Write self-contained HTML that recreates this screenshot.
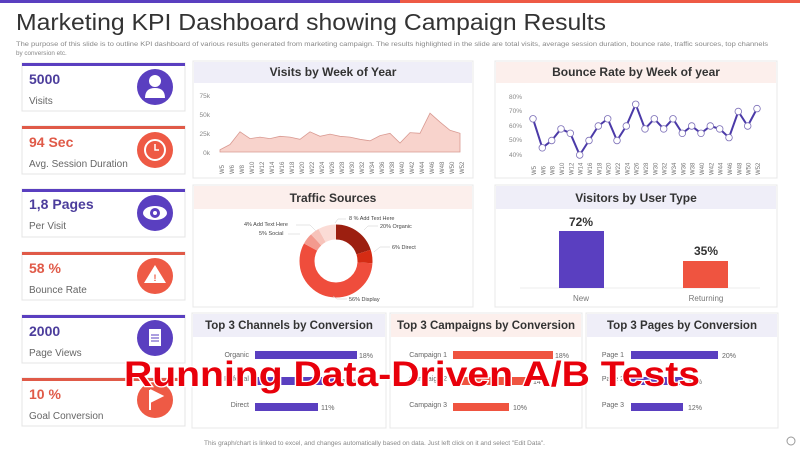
<!DOCTYPE html>
<html><head><meta charset="utf-8"><style>
body{margin:0;background:#fff}
svg{display:block;font-family:"Liberation Sans",sans-serif}
</style></head><body>
<svg width="800" height="450" viewBox="0 0 800 450" xmlns="http://www.w3.org/2000/svg">
<rect width="800" height="450" fill="#fff"/>
<rect x="0" y="0" width="400" height="3" fill="#5a3fc0"/>
<rect x="400" y="0" width="400" height="3" fill="#ee5a45"/>
<text x="16" y="30" font-size="23" fill="#333" textLength="590" lengthAdjust="spacingAndGlyphs">Marketing KPI Dashboard showing Campaign Results</text>
<text x="16" y="46" font-size="6.3" fill="#888" textLength="752" lengthAdjust="spacingAndGlyphs">The purpose of this slide is to outline KPI dashboard of various results generated from marketing campaign. The results highlighted in the slide are total visits, average session duration, bounce rate, traffic sources, top channels</text>
<text x="16" y="55" font-size="6.3" fill="#888">by conversion etc.</text>

<g>
<rect x="22" y="63" width="163" height="48" fill="#fff" stroke="#e4e4e4"/><rect x="22" y="63" width="163" height="3" fill="#5a3fc0"/>
<text x="29" y="84" font-size="14" font-weight="bold" fill="#4c3d9c">5000</text><text x="29" y="104" font-size="10" fill="#666">Visits</text>
<circle cx="155" cy="87" r="18" fill="#5a3fc0"/><circle cx="155" cy="81" r="6" fill="#fff"/><path d="M145 98 q0 -10 10 -10 q10 0 10 10z" fill="#fff"/>

<rect x="22" y="126" width="163" height="48" fill="#fff" stroke="#e4e4e4"/><rect x="22" y="126" width="163" height="3" fill="#e05a48"/>
<text x="29" y="147" font-size="14" font-weight="bold" fill="#e05a48">94 Sec</text><text x="29" y="167" font-size="10" fill="#666">Avg. Session Duration</text>
<circle cx="155" cy="150" r="18" fill="#ee5a45"/><circle cx="155" cy="150" r="10" fill="none" stroke="#fff" stroke-width="2"/><path d="M155 144v6h4" fill="none" stroke="#fff" stroke-width="1.5"/>

<rect x="22" y="189" width="163" height="48" fill="#fff" stroke="#e4e4e4"/><rect x="22" y="189" width="163" height="3" fill="#5a3fc0"/>
<text x="29" y="209" font-size="14" font-weight="bold" fill="#4c3d9c">1,8 Pages</text><text x="29" y="229" font-size="10" fill="#666">Per Visit</text>
<circle cx="155" cy="213" r="18" fill="#5a3fc0"/><ellipse cx="155" cy="213" rx="12" ry="7" fill="#fff"/><circle cx="155" cy="213" r="5" fill="#5a3fc0"/><circle cx="155" cy="213" r="2" fill="#fff"/>

<rect x="22" y="252" width="163" height="48" fill="#fff" stroke="#e4e4e4"/><rect x="22" y="252" width="163" height="3" fill="#e05a48"/>
<text x="29" y="273" font-size="14" font-weight="bold" fill="#e05a48">58 %</text><text x="29" y="293" font-size="10" fill="#666">Bounce Rate</text>
<circle cx="155" cy="276" r="18" fill="#ee5a45"/><path d="M155 265 l11 18 h-22z" fill="#fff"/><text x="155" y="281" font-size="9" font-weight="bold" fill="#ee5a45" text-anchor="middle">!</text>

<rect x="22" y="315" width="163" height="48" fill="#fff" stroke="#e4e4e4"/><rect x="22" y="315" width="163" height="3" fill="#5a3fc0"/>
<text x="29" y="336" font-size="14" font-weight="bold" fill="#4c3d9c">2000</text><text x="29" y="356" font-size="10" fill="#666">Page Views</text>
<circle cx="155" cy="338" r="18" fill="#5a3fc0"/><rect x="149" y="329" width="12" height="17" fill="#fff"/><path d="M151 335h8M151 338h8M151 341h8" stroke="#5a3fc0"/>

<rect x="22" y="378" width="163" height="48" fill="#fff" stroke="#e4e4e4"/><rect x="22" y="378" width="163" height="3" fill="#e05a48"/>
<text x="29" y="399" font-size="14" font-weight="bold" fill="#e05a48">10 %</text><text x="29" y="419" font-size="10" fill="#666">Goal Conversion</text>
<circle cx="155" cy="400" r="18" fill="#ee5a45"/><path d="M150 390v20M150 390l12 6l-12 6" fill="#fff" stroke="#fff" stroke-width="2"/>
</g>

<g stroke="#e8e8e8" fill="#fff">
<rect x="193" y="61" width="280" height="117"/><rect x="495" y="61" width="282" height="117"/>
<rect x="193" y="185" width="280" height="122"/><rect x="495" y="185" width="282" height="122"/>
<rect x="192" y="313" width="194" height="115"/><rect x="390" y="313" width="192" height="115"/><rect x="586" y="313" width="192" height="115"/>
</g>
<rect x="194" y="62" width="278" height="21" fill="#efeef8"/>
<rect x="496" y="62" width="280" height="21" fill="#fcefec"/>
<rect x="194" y="186" width="278" height="23" fill="#fcefec"/>
<rect x="496" y="186" width="280" height="23" fill="#efeef8"/>
<rect x="193" y="314" width="192" height="23" fill="#efeef8"/>
<rect x="391" y="314" width="190" height="23" fill="#fcefec"/>
<rect x="587" y="314" width="190" height="23" fill="#efeef8"/>
<g font-size="12" font-weight="bold" fill="#333" text-anchor="middle">
<text x="333" y="76">Visits by Week of Year</text>
<text x="636" y="76">Bounce Rate by Week of year</text>
<text x="333" y="202">Traffic Sources</text>
<text x="636" y="202">Visitors by User Type</text>
<text x="289" y="329" font-size="11.5">Top 3 Channels by Conversion</text>
<text x="486" y="329" font-size="11.5">Top 3 Campaigns by Conversion</text>
<text x="682" y="329" font-size="11.5">Top 3 Pages by Conversion</text>
</g>

<g font-size="6.5" fill="#888" text-anchor="end">
<text x="210" y="98">75k</text><text x="210" y="117">50k</text><text x="210" y="136">25k</text><text x="210" y="155">0k</text>
</g>
<path d="M220 152 L220 149.8 230 144.5 240 131.8 250 138.6 260 137.1 270 138.6 280 136.3 290 137.1 300 139.3 310 131.8 320 136.3 330 134.1 340 136.3 350 137.1 360 139.3 370 140.8 380 135.6 390 133.3 400 143 410 132.6 420 133.3 430 113.2 440 122.1 450 130.3 460 133.3 L460 152Z" fill="#f8d3cc" stroke="#d99a92" stroke-width="0.8"/>
<g font-size="6" fill="#777">
<text transform="translate(224,174) rotate(-90)">W5</text><text transform="translate(234,174) rotate(-90)">W6</text><text transform="translate(244,174) rotate(-90)">W8</text><text transform="translate(254,174) rotate(-90)">W10</text><text transform="translate(264,174) rotate(-90)">W12</text><text transform="translate(274,174) rotate(-90)">W14</text><text transform="translate(284,174) rotate(-90)">W16</text><text transform="translate(294,174) rotate(-90)">W18</text><text transform="translate(304,174) rotate(-90)">W20</text><text transform="translate(314,174) rotate(-90)">W22</text><text transform="translate(324,174) rotate(-90)">W24</text><text transform="translate(334,174) rotate(-90)">W26</text><text transform="translate(344,174) rotate(-90)">W28</text><text transform="translate(354,174) rotate(-90)">W30</text><text transform="translate(364,174) rotate(-90)">W32</text><text transform="translate(374,174) rotate(-90)">W34</text><text transform="translate(384,174) rotate(-90)">W36</text><text transform="translate(394,174) rotate(-90)">W38</text><text transform="translate(404,174) rotate(-90)">W40</text><text transform="translate(414,174) rotate(-90)">W42</text><text transform="translate(424,174) rotate(-90)">W44</text><text transform="translate(434,174) rotate(-90)">W46</text><text transform="translate(444,174) rotate(-90)">W48</text><text transform="translate(454,174) rotate(-90)">W50</text><text transform="translate(464,174) rotate(-90)">W52</text>
</g>

<g font-size="6.5" fill="#888" text-anchor="end">
<text x="522" y="99">80%</text><text x="522" y="113">70%</text><text x="522" y="128">60%</text><text x="522" y="142">50%</text><text x="522" y="157">40%</text>
</g>
<polyline fill="none" stroke="#4b3aa8" stroke-width="2" points="533,118.8 542.3,147.8 551.7,140.5 561,128.9 570.3,133.3 579.7,155 589,140.5 598.3,126 607.7,118.8 617,140.5 626.3,126 635.7,104.3 645,128.9 654.3,118.8 663.7,128.9 673,118.8 682.3,133.3 691.7,126 701,133.3 710.3,126 719.7,128.9 729,137.6 738.3,111.5 747.7,126 757,108.6"/>
<g fill="#fff" stroke="#7d70b8" stroke-width="0.8">
<circle cx="533" cy="118.8" r="3.3"/><circle cx="542.3" cy="147.8" r="3.3"/><circle cx="551.7" cy="140.5" r="3.3"/><circle cx="561" cy="128.9" r="3.3"/><circle cx="570.3" cy="133.3" r="3.3"/><circle cx="579.7" cy="155" r="3.3"/><circle cx="589" cy="140.5" r="3.3"/><circle cx="598.3" cy="126" r="3.3"/><circle cx="607.7" cy="118.8" r="3.3"/><circle cx="617" cy="140.5" r="3.3"/><circle cx="626.3" cy="126" r="3.3"/><circle cx="635.7" cy="104.3" r="3.3"/><circle cx="645" cy="128.9" r="3.3"/><circle cx="654.3" cy="118.8" r="3.3"/><circle cx="663.7" cy="128.9" r="3.3"/><circle cx="673" cy="118.8" r="3.3"/><circle cx="682.3" cy="133.3" r="3.3"/><circle cx="691.7" cy="126" r="3.3"/><circle cx="701" cy="133.3" r="3.3"/><circle cx="710.3" cy="126" r="3.3"/><circle cx="719.7" cy="128.9" r="3.3"/><circle cx="729" cy="137.6" r="3.3"/><circle cx="738.3" cy="111.5" r="3.3"/><circle cx="747.7" cy="126" r="3.3"/><circle cx="757" cy="108.6" r="3.3"/>
</g>
<g font-size="6" fill="#777">
<text transform="translate(536,175) rotate(-90)">W5</text><text transform="translate(545.3,175) rotate(-90)">W6</text><text transform="translate(554.7,175) rotate(-90)">W8</text><text transform="translate(564,175) rotate(-90)">W10</text><text transform="translate(573.3,175) rotate(-90)">W12</text><text transform="translate(582.7,175) rotate(-90)">W14</text><text transform="translate(592,175) rotate(-90)">W16</text><text transform="translate(601.3,175) rotate(-90)">W18</text><text transform="translate(610.7,175) rotate(-90)">W20</text><text transform="translate(620,175) rotate(-90)">W22</text><text transform="translate(629.3,175) rotate(-90)">W24</text><text transform="translate(638.7,175) rotate(-90)">W26</text><text transform="translate(648,175) rotate(-90)">W28</text><text transform="translate(657.3,175) rotate(-90)">W30</text><text transform="translate(666.7,175) rotate(-90)">W32</text><text transform="translate(676,175) rotate(-90)">W34</text><text transform="translate(685.3,175) rotate(-90)">W36</text><text transform="translate(694.7,175) rotate(-90)">W38</text><text transform="translate(704,175) rotate(-90)">W40</text><text transform="translate(713.3,175) rotate(-90)">W42</text><text transform="translate(722.7,175) rotate(-90)">W44</text><text transform="translate(732,175) rotate(-90)">W46</text><text transform="translate(741.3,175) rotate(-90)">W48</text><text transform="translate(750.7,175) rotate(-90)">W50</text><text transform="translate(760,175) rotate(-90)">W52</text>
</g>

<g transform="rotate(-90 336 261)" fill="none" stroke-width="15">
<circle cx="336" cy="261" r="29" pathLength="100" stroke="#9c1f10" stroke-dasharray="20 80"/>
<circle cx="336" cy="261" r="29" pathLength="100" stroke="#d52c14" stroke-dasharray="6 94" stroke-dashoffset="-20"/>
<circle cx="336" cy="261" r="29" pathLength="100" stroke="#ef4d3c" stroke-dasharray="57 43" stroke-dashoffset="-26"/>
<circle cx="336" cy="261" r="29" pathLength="100" stroke="#f39a8e" stroke-dasharray="5 95" stroke-dashoffset="-83"/>
<circle cx="336" cy="261" r="29" pathLength="100" stroke="#f7c3ba" stroke-dasharray="4 96" stroke-dashoffset="-88"/>
<circle cx="336" cy="261" r="29" pathLength="100" stroke="#fbdcd6" stroke-dasharray="8 92" stroke-dashoffset="-92"/>
</g>
<g font-size="5.5" fill="#444">
<text x="244" y="226">4% Add Text Here</text><text x="259" y="235">5% Social</text>
<text x="349" y="220">8 % Add Text Here</text><text x="380" y="228">20% Organic</text>
<text x="392" y="249">6% Direct</text><text x="349" y="301">56% Display</text>
</g>
<g stroke="#ccc" stroke-width="0.5" fill="none">
<path d="M296 225h14l6 6"/><path d="M288 234h12"/><path d="M346 219h-8l-3 4"/><path d="M378 226h-10l-4 4"/><path d="M390 247h-10l-6 5"/><path d="M347 299h-10l-4 -3"/>
</g>

<line x1="520" y1="288" x2="760" y2="288" stroke="#eee"/>
<rect x="559" y="231" width="45" height="57" fill="#5a3fc0"/>
<rect x="683" y="261" width="45" height="27" fill="#ef5440"/>
<text x="581" y="226" font-size="12" font-weight="bold" fill="#333" text-anchor="middle">72%</text>
<text x="706" y="255" font-size="12" font-weight="bold" fill="#333" text-anchor="middle">35%</text>
<text x="581" y="301" font-size="8" fill="#777" text-anchor="middle">New</text>
<text x="706" y="301" font-size="8" fill="#777" text-anchor="middle">Returning</text>

<g font-size="7" fill="#666">
<text x="249" y="357" text-anchor="end">Organic</text><text x="249" y="381" text-anchor="end">Referral</text><text x="249" y="407" text-anchor="end">Direct</text>
<rect x="255" y="351" width="102" height="8" fill="#5a3fc0"/><rect x="255" y="377" width="85" height="8" fill="#5a3fc0"/><rect x="255" y="403" width="63" height="8" fill="#5a3fc0"/>
<text x="359" y="358">18%</text><text x="342" y="384">15%</text><text x="321" y="410">11%</text>
<text x="447" y="357" text-anchor="end">Campaign 1</text><text x="447" y="381" text-anchor="end">Campaign 2</text><text x="447" y="407" text-anchor="end">Campaign 3</text>
<rect x="453" y="351" width="100" height="8" fill="#ef5440"/><rect x="453" y="377" width="78" height="8" fill="#ef5440"/><rect x="453" y="403" width="56" height="8" fill="#ef5440"/>
<text x="555" y="358">18%</text><text x="533" y="384">14%</text><text x="513" y="410">10%</text>
<text x="624" y="357" text-anchor="end">Page 1</text><text x="624" y="381" text-anchor="end">Page 2</text><text x="624" y="407" text-anchor="end">Page 3</text>
<rect x="631" y="351" width="87" height="8" fill="#5a3fc0"/><rect x="631" y="377" width="52" height="8" fill="#5a3fc0"/><rect x="631" y="403" width="52" height="8" fill="#5a3fc0"/>
<text x="722" y="358">20%</text><text x="688" y="384">12%</text><text x="688" y="410">12%</text>
</g>

<text x="204" y="445" font-size="6.5" fill="#888">This graph/chart is linked to excel, and changes automatically based on data. Just left click on it and select "Edit Data".</text>
<circle cx="791" cy="441" r="4" fill="none" stroke="#999"/>

<text x="124" y="386" font-size="35" font-weight="bold" fill="#e8000b" stroke="#fff" stroke-width="2.5" paint-order="stroke" textLength="576" lengthAdjust="spacingAndGlyphs">Running Data-Driven A/B Tests</text>
</svg>
</body></html>
